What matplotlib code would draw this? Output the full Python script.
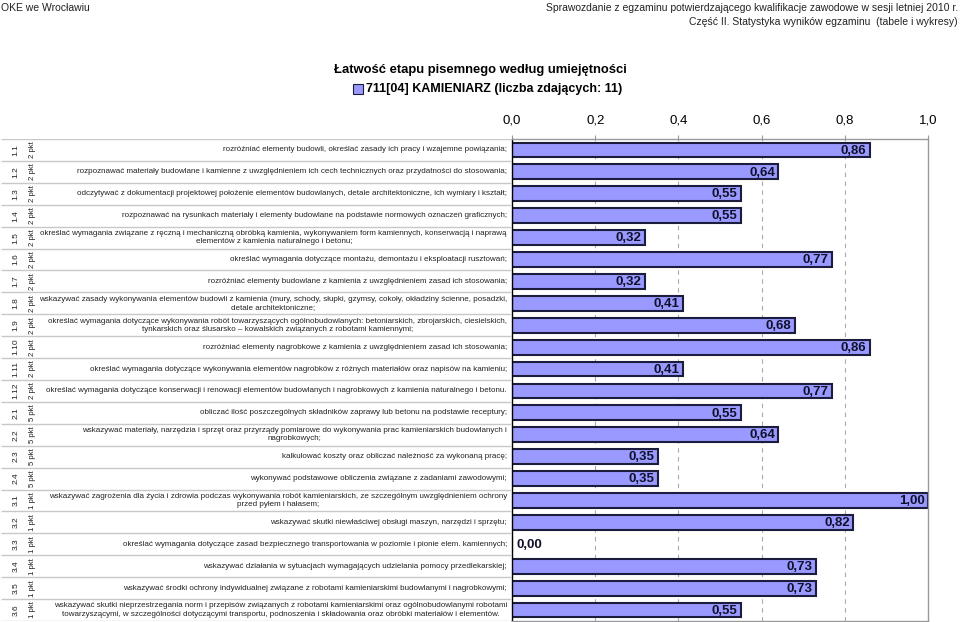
import matplotlib
matplotlib.use('Agg')
import matplotlib.pyplot as plt
from matplotlib.patches import Rectangle

codes = ['1.1', '1.2', '1.3', '1.4', '1.5', '1.6', '1.7', '1.8', '1.9', '1.10', '1.11', '1.12',
         '2.1', '2.2', '2.3', '2.4', '3.1', '3.2', '3.3', '3.4', '3.5', '3.6']
points = ['2 pkt'] * 12 + ['5 pkt'] * 4 + ['1 pkt'] * 6
descriptions = [
    'rozróżniać elementy budowli, określać zasady ich pracy i wzajemne powiązania;',
    'rozpoznawać materiały budowlane i kamienne z uwzględnieniem ich cech technicznych oraz przydatności do stosowania;',
    'odczytywać z dokumentacji projektowej położenie elementów budowlanych, detale architektoniczne, ich wymiary i kształt;',
    'rozpoznawać na rysunkach materiały i elementy budowlane na podstawie normowych oznaczeń graficznych;',
    'określać wymagania związane z ręczną i mechaniczną obróbką kamienia, wykonywaniem form kamiennych, konserwacją i naprawą\nelementów z kamienia naturalnego i betonu;',
    'określać wymagania dotyczące montażu, demontażu i eksploatacji rusztowań;',
    'rozróżniać elementy budowlane z kamienia z uwzględnieniem zasad ich stosowania;',
    'wskazywać zasady wykonywania elementów budowli z kamienia (mury, schody, słupki, gzymsy, cokoły, okładziny ścienne, posadzki,\ndetale architektoniczne;',
    'określać wymagania dotyczące wykonywania robót towarzyszących ogólnobudowlanych: betoniarskich, zbrojarskich, ciesielskich,\ntynkarskich oraz ślusarsko – kowalskich związanych z robotami kamiennymi;',
    'rozróżniać elementy nagrobkowe z kamienia z uwzględnieniem zasad ich stosowania;',
    'określać wymagania dotyczące wykonywania elementów nagrobków z różnych materiałów oraz napisów na kamieniu;',
    'określać wymagania dotyczące konserwacji i renowacji elementów budowlanych i nagrobkowych z kamienia naturalnego i betonu.',
    'obliczać ilość poszczególnych składników zaprawy lub betonu na podstawie receptury;',
    'wskazywać materiały, narzędzia i sprzęt oraz przyrządy pomiarowe do wykonywania prac kamieniarskich budowlanych i\nnagrobkowych;',
    'kalkulować koszty oraz obliczać należność za wykonaną pracę;',
    'wykonywać podstawowe obliczenia związane z zadaniami zawodowymi;',
    'wskazywać zagrożenia dla życia i zdrowia podczas wykonywania robót kamieniarskich, ze szczególnym uwzględnieniem ochrony\nprzed pyłem i hałasem;',
    'wskazywać skutki niewłaściwej obsługi maszyn, narzędzi i sprzętu;',
    'określać wymagania dotyczące zasad bezpiecznego transportowania w poziomie i pionie elem. kamiennych;',
    'wskazywać działania w sytuacjach wymagających udzielania pomocy przedlekarskiej;',
    'wskazywać środki ochrony indywidualnej związane z robotami kamieniarskimi budowlanymi i nagrobkowymi;',
    'wskazywać skutki nieprzestrzegania norm i przepisów związanych z robotami kamieniarskimi oraz ogólnobudowlanymi robotami\ntowarzyszącymi, w szczególności dotyczącymi transportu, podnoszenia i składowania oraz obróbki materiałów i elementów.',
]
values = [0.86, 0.64, 0.55, 0.55, 0.32, 0.77, 0.32, 0.41, 0.68, 0.86, 0.41, 0.77,
          0.55, 0.64, 0.35, 0.35, 1.00, 0.82, 0.00, 0.73, 0.73, 0.55]
xticks = [0.0, 0.2, 0.4, 0.6, 0.8, 1.0]
xtick_labels = ['0,0', '0,2', '0,4', '0,6', '0,8', '1,0']

title = 'Łatwość etapu pisemnego według umiejętności'
legend_label = '711[04] KAMIENIARZ (liczba zdających: 11)'
header_left = 'OKE we Wrocławiu'
header_right1 = 'Sprawozdanie z egzaminu potwierdzającego kwalifikacje zawodowe w sesji letniej 2010 r.'
header_right2 = 'Część II. Statystyka wyników egzaminu  (tabele i wykresy)'

plt.rcParams['font.family'] = ['Liberation Sans', 'DejaVu Sans']

BAR = '#9999FF'
EDGE = '#1c1c3c'
W, H = 960, 622
fig = plt.figure(figsize=(W / 100, H / 100), dpi=100)
fig.patch.set_facecolor('white')

x0, x1 = 512, 928
y_top, y_bot = 139, 621
n = len(values)

ax = fig.add_axes([x0 / W, 1 - y_bot / H, (x1 - x0) / W, (y_bot - y_top) / H])
ax.set_axisbelow(True)
ax.barh(range(n), values, height=0.68, color=BAR, edgecolor=EDGE, linewidth=1.5)
ax.set_xlim(0, 1)
ax.set_ylim(n - 0.5, -0.5)
ax.xaxis.tick_top()
ax.set_xticks(xticks)
ax.set_xticklabels(xtick_labels)
ax.tick_params(axis='x', length=3, color='#999999', labelsize=9.5, pad=6, labelcolor='black')
ax.tick_params(axis='y', left=False, labelleft=False)
for t in xticks[1:-1]:
    ax.axvline(t, color='#aaaaaa', linestyle=(0, (4, 4)), linewidth=0.8, zorder=0)
ax.spines['left'].set_color('black')
ax.spines['left'].set_linewidth(1.0)
for s in ['top', 'right', 'bottom']:
    ax.spines[s].set_color('#999999')
    ax.spines[s].set_linewidth(1.0)

for i, v in enumerate(values):
    lab = f'{v:.2f}'.replace('.', ',')
    if v > 0.05:
        ax.text(v - 0.008, i + 0.03, lab, ha='right', va='center', fontsize=9.5, fontweight='bold', color='#10102a')
    else:
        ax.text(0.01, i + 0.03, lab, ha='left', va='center', fontsize=9.5, fontweight='bold', color='#10102a')

# left table
tax = fig.add_axes([0, 1 - y_bot / H, x0 / W, (y_bot - y_top) / H])
tax.set_xlim(0, x0)
tax.set_ylim(n - 0.5, -0.5)
tax.axis('off')
for k in range(n + 1):
    tax.plot([1, x0], [k - 0.5, k - 0.5], color='#c8c8c8', linewidth=1.0, solid_capstyle='butt')
for i in range(n):
    tax.text(16, i, codes[i], rotation=90, ha='center', va='center', fontsize=6.0, color='#222222')
    tax.text(33, i, points[i], rotation=90, ha='center', va='center', fontsize=5.6, color='#222222')
    tax.text(507, i, descriptions[i], ha='right', va='center', multialignment='center',
             fontsize=5.8, color='#222222', linespacing=1.25)

# titles
fig.text(480 / W, 1 - 70 / H, title, ha='center', va='center', fontsize=9.4, fontweight='bold')
fig.patches.append(Rectangle((353 / W, 1 - 94 / H), 10 / W, 10 / H, transform=fig.transFigure,
                             facecolor=BAR, edgecolor=EDGE, linewidth=0.8))
fig.text(366 / W, 1 - 89 / H, legend_label, ha='left', va='center', fontsize=9, fontweight='bold')

fig.text(1 / W, 1 - 8 / H, header_left, ha='left', va='center', fontsize=7.5, color='#222222')
fig.text(958 / W, 1 - 8 / H, header_right1, ha='right', va='center', fontsize=7.5, color='#222222')
fig.text(958 / W, 1 - 22 / H, header_right2, ha='right', va='center', fontsize=7.5, color='#222222')

fig.savefig('out.png', dpi=100)
